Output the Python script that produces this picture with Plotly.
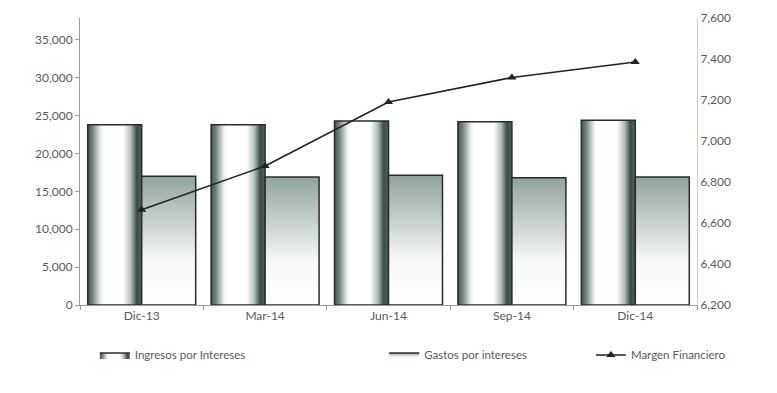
import plotly.graph_objects as go

## DATA ##
periods = ["Dic-13", "Mar-14", "Jun-14", "Sep-14", "Dic-14"]
ingresos = [23800, 23800, 24300, 24200, 24400]
gastos = [17000, 16900, 17150, 16800, 16900]
margen = [6665, 6878, 7190, 7310, 7385]

left_ticks = [0, 5000, 10000, 15000, 20000, 25000, 30000, 35000]
right_ticks = [6200, 6400, 6600, 6800, 7000, 7200, 7400, 7600]

## STYLE ##
bar_w = 0.4375
edge = "#2b2b2b"
gray_txt = "#5a5a5a"
cyl_scale = [[0, "#44554f"], [0.08, "#6f7d79"], [0.24, "#eef1f0"], [0.3, "#ffffff"],
             [0.66, "#ffffff"], [0.8, "#b3bdba"], [0.91, "#3b4b47"], [1, "#56665f"]]
fade_scale = [[0, "#ffffff"], [0.35, "#f6f8f7"], [1, "#90a39e"]]

fig = go.Figure()


def bar_shape(x0, x1, top):
    return [x0, x0, x1, x1, x0], [0, top, top, 0, 0]


for i, v in enumerate(ingresos):
    xs, ys = bar_shape(i - bar_w, i, v)
    fig.add_trace(go.Scatter(
        x=xs, y=ys, mode="lines", fill="toself",
        line=dict(color=edge, width=1.5),
        fillgradient=dict(type="horizontal", colorscale=cyl_scale),
        name="Ingresos por Intereses", legend="legend",
        legendgroup="ing", showlegend=(i == 0), hoverinfo="skip"))

for i, v in enumerate(gastos):
    xs, ys = bar_shape(i, i + bar_w, v)
    fig.add_trace(go.Scatter(
        x=xs, y=ys, mode="lines", fill="toself",
        line=dict(color=edge, width=1.5),
        fillgradient=dict(type="vertical", colorscale=fade_scale),
        name="Gastos por intereses", legend="legend2",
        legendgroup="gas", showlegend=(i == 0), hoverinfo="skip"))

fig.add_trace(go.Scatter(
    x=list(range(len(periods))), y=margen, yaxis="y2",
    mode="lines+markers", name="Margen Financiero", legend="legend3",
    line=dict(color="#222222", width=1.6),
    marker=dict(symbol="triangle-up", size=8, color="#222222")))

font = dict(family="Lato, Open Sans, sans-serif", size=12, color=gray_txt)
leg_font = dict(family="Lato, Open Sans, sans-serif", size=11.5, color=gray_txt)

# page body has an 8px margin, so offsets are shifted by 8
fig.update_layout(
    width=777, height=393,
    margin=dict(l=72, r=88, t=10, b=96, autoexpand=False),
    paper_bgcolor="white", plot_bgcolor="white",
    font=font,
    xaxis=dict(range=[-0.5, 4.5], tickvals=list(range(len(periods))), ticktext=periods,
               showgrid=False, zeroline=False, showline=True, linecolor="#9a9a9a",
               ticks="", tickfont=font, automargin=False,
               minor=dict(ticks="outside", tick0=0.5, dtick=1, ticklen=4, tickcolor="#9a9a9a")),
    yaxis=dict(range=[0, 37900], tickvals=left_ticks, tickformat=",",
               showgrid=False, zeroline=False, showline=True, linecolor="#9a9a9a",
               ticks="outside", ticklen=4, tickcolor="#9a9a9a", tickfont=font,
               automargin=False),
    yaxis2=dict(range=[6200, 7600], tickvals=right_ticks, tickformat=",",
                overlaying="y", side="right", showgrid=False, zeroline=False,
                showline=True, linecolor="#d0d0d0", ticks="", tickfont=font,
                automargin=False),
    legend=dict(x=0.024, y=-0.174, xanchor="left", yanchor="middle",
                bgcolor="rgba(0,0,0,0)", font=leg_font),
    legend2=dict(x=0.493, y=-0.174, xanchor="left", yanchor="middle",
                 bgcolor="rgba(0,0,0,0)", font=leg_font),
    legend3=dict(x=0.828, y=-0.174, xanchor="left", yanchor="middle",
                 bgcolor="rgba(0,0,0,0)", font=leg_font),
)

fig.write_html("out.html")
